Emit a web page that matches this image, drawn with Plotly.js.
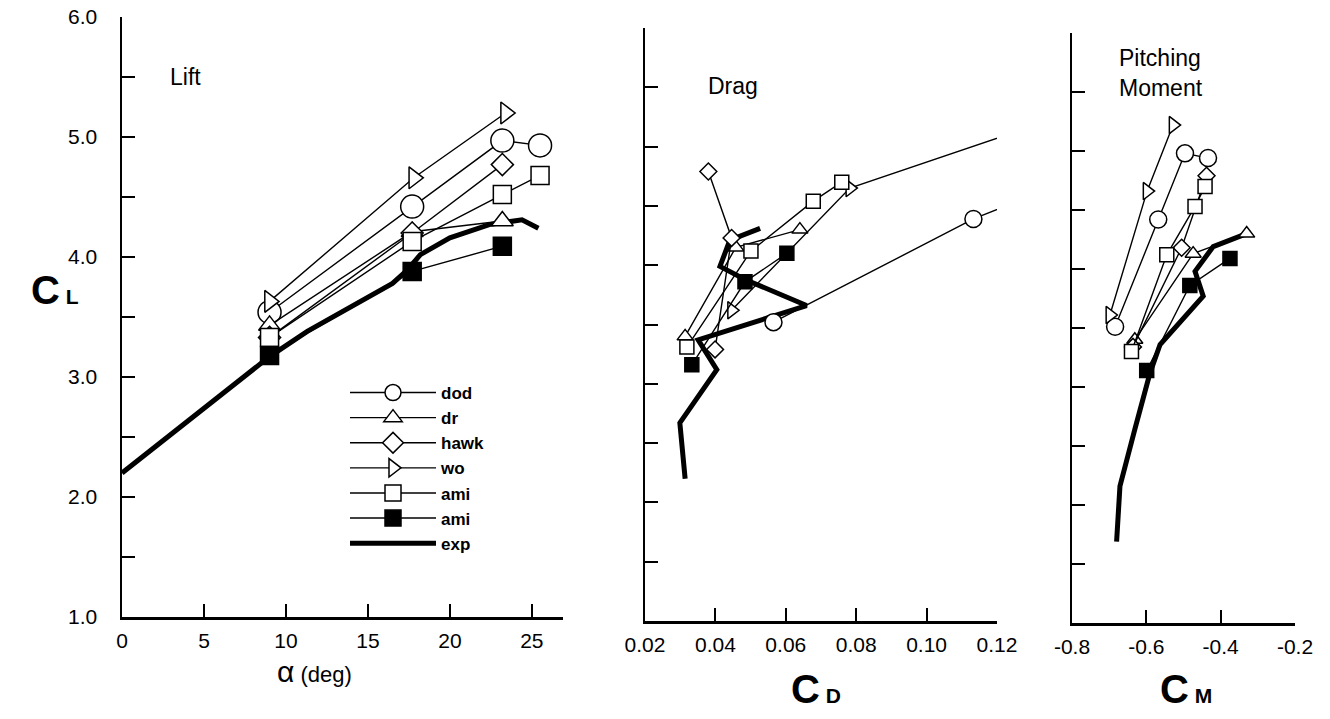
<!DOCTYPE html>
<html>
<head>
<meta charset="utf-8">
<script src="https://cdn.plot.ly/plotly-3.0.1.min.js"></script>
<style>html,body{margin:0;padding:0;background:#fff;}#chart{width:1330px;height:719px;}</style>
</head>
<body>
<div id="chart"></div>
<script>
// ---- Lift panel: alpha (deg) vs C_L ----
const alphaDod  = [9.0, 17.7, 23.2, 25.5];
const clDod     = [3.54, 4.42, 4.97, 4.93];
const alphaDr   = [9.0, 17.7, 23.2];
const clDr      = [3.43, 4.21, 4.30];
const alphaHawk = [9.0, 17.7, 23.2];
const clHawk    = [3.33, 4.20, 4.77];
const alphaWo   = [9.0, 17.8, 23.4];
const clWo      = [3.63, 4.66, 5.20];
const alphaAmi  = [9.0, 17.7, 23.2, 25.5];
const clAmi     = [3.33, 4.13, 4.52, 4.68];
const alphaAmiF = [9.0, 17.7, 23.2];
const clAmiF    = [3.18, 3.88, 4.09];
const alphaExp  = [0, 9.0, 11.3, 16.5, 17.4, 18.2, 20.0, 22.4, 24.4, 25.4];
const clExp     = [2.20, 3.17, 3.38, 3.78, 3.89, 4.02, 4.16, 4.27, 4.31, 4.24];

// ---- Drag panel: C_D vs C_L ----
const cdDod  = [0.0565, 0.1133, 0.162];
const cdlDod = [3.52, 4.39, 4.97];
const cdDr   = [0.0314, 0.0458, 0.0640];
const cdlDr  = [3.40, 4.15, 4.30];
const cdHawk = [0.0399, 0.0446, 0.0380];
const cdlHawk= [3.29, 4.23, 4.79];
const cdWo   = [0.0446, 0.0782, 0.133];
const cdlWo  = [3.62, 4.65, 5.20];
const cdAmi  = [0.0319, 0.0501, 0.0678, 0.0759];
const cdlAmi = [3.31, 4.12, 4.54, 4.70];
const cdAmiF = [0.0333, 0.0484, 0.0603];
const cdlAmiF= [3.16, 3.86, 4.10];
const cdExp  = [0.0314, 0.0299, 0.0404, 0.0351, 0.0659, 0.0484, 0.0413, 0.0441, 0.0527];
const cdlExp = [2.20, 2.67, 3.12, 3.37, 3.66, 3.88, 3.99, 4.21, 4.31];

// ---- Pitching moment panel: C_M vs C_L ----
const cmDod  = [-0.684, -0.568, -0.496, -0.434];
const cmlDod = [3.51, 4.42, 4.98, 4.94];
const cmDr   = [-0.631, -0.474, -0.330];
const cmlDr  = [3.40, 4.13, 4.30];
const cmHawk = [-0.636, -0.505, -0.438];
const cmlHawk= [3.34, 4.18, 4.79];
const cmWo   = [-0.698, -0.598, -0.528];
const cmlWo  = [3.61, 4.66, 5.22];
const cmAmi  = [-0.640, -0.545, -0.469, -0.442];
const cmlAmi = [3.30, 4.12, 4.53, 4.70];
const cmAmiF = [-0.599, -0.483, -0.375];
const cmlAmiF= [3.14, 3.86, 4.09];
const cmExp  = [-0.680, -0.671, -0.631, -0.590, -0.563, -0.447, -0.469, -0.420, -0.330];
const cmlExp = [1.69, 2.16, 2.64, 3.12, 3.36, 3.77, 3.98, 4.19, 4.30];

// ---- tick labels ----
const alphaTicks = [0, 5, 10, 15, 20, 25];
const clTickVals = [1, 1.5, 2, 2.5, 3, 3.5, 4, 4.5, 5, 5.5, 6];
const clTickText = ["1.0", "", "2.0", "", "3.0", "", "4.0", "", "5.0", "", "6.0"];
const cdTickVals = [0.02, 0.04, 0.06, 0.08, 0.10, 0.12];
const cdTickText = ["0.02", "0.04", "0.06", "0.08", "0.10", "0.12"];
const cmTickVals = [-0.8, -0.6, -0.4, -0.2];
const cmTickText = ["-0.8", "-0.6", "-0.4", "-0.2"];

const names = ["dod", "dr", "hawk", "wo", "ami", "ami", "exp"];
const FONT = "Liberation Sans, Arial, Helvetica, sans-serif";

const styles = [
  {symbol: "circle", fill: "white"},
  {symbol: "triangle-up", fill: "white"},
  {symbol: "diamond", fill: "white"},
  {symbol: "triangle-right", fill: "white"},
  {symbol: "square", fill: "white"},
  {symbol: "square", fill: "black"}
];
const bigSize = [23, 19, 17, 19, 18, 18];
const smallSize = [17, 14, 13, 15, 14, 14];

const panels = [
  {xa: "x", ya: "y", big: true, sets: [
    [alphaDod, clDod], [alphaDr, clDr], [alphaHawk, clHawk], [alphaWo, clWo],
    [alphaAmi, clAmi], [alphaAmiF, clAmiF], [alphaExp, clExp]]},
  {xa: "x2", ya: "y2", big: false, sets: [
    [cdDod, cdlDod], [cdDr, cdlDr], [cdHawk, cdlHawk], [cdWo, cdlWo],
    [cdAmi, cdlAmi], [cdAmiF, cdlAmiF], [cdExp, cdlExp]]},
  {xa: "x3", ya: "y3", big: false, sets: [
    [cmDod, cmlDod], [cmDr, cmlDr], [cmHawk, cmlHawk], [cmWo, cmlWo],
    [cmAmi, cmlAmi], [cmAmiF, cmlAmiF], [cmExp, cmlExp]]}
];

const traces = [];
panels.forEach(function (p, pi) {
  const e = p.sets[6];
  traces.push({
    type: "scatter", mode: "lines", x: e[0], y: e[1], xaxis: p.xa, yaxis: p.ya,
    name: names[6], showlegend: pi === 0, legendrank: 7,
    line: {color: "black", width: 5}
  });
  for (let i = 0; i < 6; i++) {
    const s = p.sets[i];
    traces.push({
      type: "scatter", mode: "lines+markers", x: s[0], y: s[1], xaxis: p.xa, yaxis: p.ya,
      name: names[i], showlegend: pi === 0, legendrank: i + 1,
      line: {color: "black", width: 1.4},
      marker: {symbol: styles[i].symbol, color: styles[i].fill,
               size: p.big ? bigSize[i] : smallSize[i],
               line: {color: "black", width: 1.5}}
    });
  }
});

function xAxis(domain, range, vals, text, anchor) {
  return {domain: domain, range: range, anchor: anchor, tickmode: "array",
    tickvals: vals, ticktext: text, ticks: "inside", ticklen: 13, tickwidth: 2,
    tickcolor: "black", showline: true, linecolor: "black", linewidth: 2.5,
    showgrid: false, zeroline: false, ticklabelstandoff: 3,
    tickfont: {family: FONT, size: 21, color: "black"}, fixedrange: true};
}
function yAxis(domain, anchor, labels) {
  return {domain: domain, range: [1, 6], anchor: anchor, tickmode: "array",
    tickvals: clTickVals, ticktext: clTickText, showticklabels: labels,
    ticks: "inside", ticklen: 13, tickwidth: 2, tickcolor: "black",
    showline: true, linecolor: "black", linewidth: 2.5, showgrid: false,
    zeroline: false, ticklabelstandoff: 18,
    tickfont: {family: FONT, size: 21, color: "black"}, fixedrange: true};
}

const W = 1330, H = 719;
const px = v => v / W;
const py = v => (H - v) / H;

function note(text, x, y, size, extra) {
  return Object.assign({text: text, x: px(x), y: py(y), xref: "paper", yref: "paper",
    xanchor: "center", yanchor: "middle", showarrow: false,
    font: {family: FONT, size: size, color: "black"}}, extra || {});
}

const layout = {
  width: W, height: H,
  margin: {l: 0, r: 0, t: 0, b: 0},
  paper_bgcolor: "white", plot_bgcolor: "white",
  font: {family: FONT, color: "black"},
  xaxis:  xAxis([px(122), px(563)], [0, 26.9], alphaTicks, alphaTicks.map(String), "y"),
  yaxis:  yAxis([py(617), py(17)], "x", true),
  xaxis2: xAxis([px(645), px(997)], [0.02, 0.12], cdTickVals, cdTickText, "y2"),
  yaxis2: yAxis([py(621), py(28)], "x2", false),
  xaxis3: xAxis([px(1072), px(1295)], [-0.8, -0.2], cmTickVals, cmTickText, "y3"),
  yaxis3: yAxis([py(623), py(33)], "x3", false),
  showlegend: true,
  legend: {x: px(345), y: py(375), xanchor: "left", yanchor: "top",
    bgcolor: "rgba(0,0,0,0)", borderwidth: 0, traceorder: "normal",
    itemwidth: 86, itemsizing: "trace",
    font: {family: FONT, size: 17, color: "black", weight: "bold"}},
  annotations: [
    note("Lift", 185, 77, 23),
    note("Drag", 733, 86, 23),
    note("Pitching<br>Moment", 1117, 73, 23, {xanchor: "left", align: "left"}),
    note("<b>C<span style='font-size:21px'> L</span></b>", 55, 290, 40),
    note("<span style='font-size:30px'>α</span> (deg)", 314, 671, 22),
    note("<b>C<span style='font-size:21px'> D</span></b>", 816, 689, 40),
    note("<b>C<span style='font-size:21px'> M</span></b>", 1186, 689, 40)
  ]
};

Plotly.newPlot("chart", traces, layout, {displayModeBar: false, staticPlot: true});
</script>
</body>
</html>
